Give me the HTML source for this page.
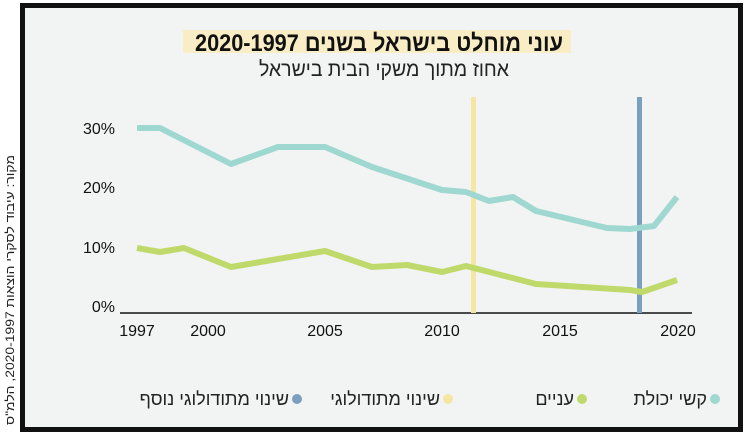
<!DOCTYPE html>
<html><head><meta charset="utf-8"><style>
body{margin:0;width:745px;height:434px;background:#fff;overflow:hidden;font-family:"Liberation Sans","Noto Sans CJK SC",sans-serif}
</style></head><body>
<svg width="745" height="434" xmlns="http://www.w3.org/2000/svg" font-family="Liberation Sans, Noto Sans CJK SC, sans-serif">
<rect x="0" y="0" width="745" height="434" fill="#fff"/>
<rect x="22.5" y="5.5" width="718" height="424" fill="#f2f4f4" stroke="#111" stroke-width="5"/>
<text transform="translate(14,290) rotate(-90)" text-anchor="middle" font-size="12" fill="#222" textLength="270" lengthAdjust="spacingAndGlyphs">מקור: עיבוד לסקרי הוצאות 2020-1997, הלמ"ס</text>
<rect x="183" y="30" width="388" height="23" fill="#f8edc4"/>
<text x="379" y="51" text-anchor="middle" font-size="24" font-weight="bold" fill="#111" textLength="368" lengthAdjust="spacingAndGlyphs">עוני מוחלט בישראל בשנים 2020-1997</text>
<text x="384" y="76" text-anchor="middle" font-size="21" fill="#222" textLength="250" lengthAdjust="spacingAndGlyphs">אחוז מתוך משקי הבית בישראל</text>
<g font-size="16" fill="#111" text-anchor="end">
<text x="115" y="134">30%</text><text x="115" y="193">20%</text><text x="115" y="253">10%</text><text x="115" y="312">0%</text>
</g>
<line x1="120" y1="313" x2="692" y2="313" stroke="#111" stroke-width="1.5"/>
<g font-size="16" fill="#111" text-anchor="middle">
<text x="137" y="336">1997</text><text x="208" y="336">2000</text><text x="325" y="336">2005</text><text x="442" y="336">2010</text><text x="560" y="336">2015</text><text x="678" y="336">2020</text>
</g>
<rect x="471" y="97" width="5" height="216" fill="#f5e6a3"/>
<rect x="637" y="97" width="5" height="216" fill="#7c9fbf"/>
<polyline fill="none" stroke="#9fd8d0" stroke-width="6" stroke-linejoin="round" points="137,128 160,128 231,164 278,147 325,147 372,167 442,190 466,192 489,201 513,197 536,211 607,228 630,229 654,226 677,197"/>
<polyline fill="none" stroke="#bfd96b" stroke-width="6" stroke-linejoin="round" points="137,248 160,252 184,248 231,267 325,251 372,267 407,265 442,272 466,266 536,284 630,290 642,292 677,280"/>
<g font-size="18" fill="#222" text-anchor="end">
<circle cx="715" cy="399" r="5" fill="#9fd8d0"/><text x="707" y="405">קשי יכולת</text>
<circle cx="582" cy="399" r="5" fill="#bfd96b"/><text x="574" y="405">עניים</text>
<circle cx="448" cy="399" r="5" fill="#f5e6a3"/><text x="440" y="405">שינוי מתודולוגי</text>
<circle cx="297" cy="399" r="5" fill="#7c9fbf"/><text x="289" y="405">שינוי מתודולוגי נוסף</text>
</g>
</svg>
</body></html>
